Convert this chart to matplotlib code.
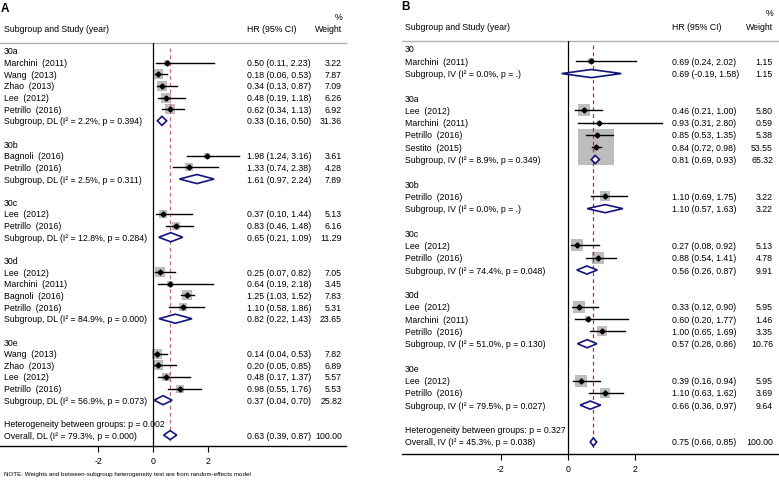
import matplotlib
matplotlib.use('Agg')
import matplotlib.pyplot as plt
from matplotlib.patches import Polygon
from matplotlib.transforms import blended_transform_factory
import numpy as np

plt.rcParams['font.family'] = ['Liberation Sans', 'DejaVu Sans']

W, H = 779, 481
FS = 6.3
NAN = np.nan

# ---- panel A (DL) ----
a_labels = ['30a', 'Marchini  (2011)', 'Wang  (2013)', 'Zhao  (2013)', 'Lee  (2012)', 'Petrillo  (2016)',
            'Subgroup, DL (I² = 2.2%, p = 0.394)', '',
            '30b', 'Bagnoli  (2016)', 'Petrillo  (2016)', 'Subgroup, DL (I² = 2.5%, p = 0.311)', '',
            '30c', 'Lee  (2012)', 'Petrillo  (2016)', 'Subgroup, DL (I² = 12.8%, p = 0.284)', '',
            '30d', 'Lee  (2012)', 'Marchini  (2011)', 'Bagnoli  (2016)', 'Petrillo  (2016)',
            'Subgroup, DL (I² = 84.9%, p = 0.000)', '',
            '30e', 'Wang  (2013)', 'Zhao  (2013)', 'Lee  (2012)', 'Petrillo  (2016)',
            'Subgroup, DL (I² = 56.9%, p = 0.073)', '',
            'Heterogeneity between groups: p = 0.002', 'Overall, DL (I² = 79.3%, p = 0.000)']
a_kind = ['h', 's', 's', 's', 's', 's', 'd', '',
          'h', 's', 's', 'd', '',
          'h', 's', 's', 'd', '',
          'h', 's', 's', 's', 's', 'd', '',
          'h', 's', 's', 's', 's', 'd', '',
          'h', 'd']
a_hr = [NAN, 0.50, 0.18, 0.34, 0.48, 0.62, 0.33, NAN,
        NAN, 1.98, 1.33, 1.61, NAN,
        NAN, 0.37, 0.83, 0.65, NAN,
        NAN, 0.25, 0.64, 1.25, 1.10, 0.82, NAN,
        NAN, 0.14, 0.20, 0.48, 0.98, 0.37, NAN,
        NAN, 0.63]
a_lo = [NAN, 0.11, 0.06, 0.13, 0.19, 0.34, 0.16, NAN,
        NAN, 1.24, 0.74, 0.97, NAN,
        NAN, 0.10, 0.46, 0.21, NAN,
        NAN, 0.07, 0.19, 1.03, 0.58, 0.22, NAN,
        NAN, 0.04, 0.05, 0.17, 0.55, 0.04, NAN,
        NAN, 0.39]
a_hi = [NAN, 2.23, 0.53, 0.87, 1.18, 1.13, 0.50, NAN,
        NAN, 3.16, 2.38, 2.24, NAN,
        NAN, 1.44, 1.48, 1.09, NAN,
        NAN, 0.82, 2.18, 1.52, 1.86, 1.43, NAN,
        NAN, 0.53, 0.85, 1.37, 1.76, 0.70, NAN,
        NAN, 0.87]
a_wt = [NAN, 3.22, 7.87, 7.09, 6.26, 6.92, 31.36, NAN,
        NAN, 3.61, 4.28, 7.89, NAN,
        NAN, 5.13, 6.16, 11.29, NAN,
        NAN, 7.05, 3.45, 7.83, 5.31, 23.65, NAN,
        NAN, 7.82, 6.89, 5.57, 5.53, 25.82, NAN,
        NAN, 100.00]

# ---- panel B (IV) ----
b_labels = ['30', 'Marchini  (2011)', 'Subgroup, IV (I² = 0.0%, p = .)', '',
            '30a', 'Lee  (2012)', 'Marchini  (2011)', 'Petrillo  (2016)', 'Sestito  (2015)',
            'Subgroup, IV (I² = 8.9%, p = 0.349)', '',
            '30b', 'Petrillo  (2016)', 'Subgroup, IV (I² = 0.0%, p = .)', '',
            '30c', 'Lee  (2012)', 'Petrillo  (2016)', 'Subgroup, IV (I² = 74.4%, p = 0.048)', '',
            '30d', 'Lee  (2012)', 'Marchini  (2011)', 'Petrillo  (2016)',
            'Subgroup, IV (I² = 51.0%, p = 0.130)', '',
            '30e', 'Lee  (2012)', 'Petrillo  (2016)', 'Subgroup, IV (I² = 79.5%, p = 0.027)', '',
            'Heterogeneity between groups: p = 0.327', 'Overall, IV (I² = 45.3%, p = 0.038)']
b_kind = ['h', 's', 'd', '',
          'h', 's', 's', 's', 's', 'd', '',
          'h', 's', 'd', '',
          'h', 's', 's', 'd', '',
          'h', 's', 's', 's', 'd', '',
          'h', 's', 's', 'd', '',
          'h', 'd']
b_hr = [NAN, 0.69, 0.69, NAN,
        NAN, 0.46, 0.93, 0.85, 0.84, 0.81, NAN,
        NAN, 1.10, 1.10, NAN,
        NAN, 0.27, 0.88, 0.56, NAN,
        NAN, 0.33, 0.60, 1.00, 0.57, NAN,
        NAN, 0.39, 1.10, 0.66, NAN,
        NAN, 0.75]
b_lo = [NAN, 0.24, -0.19, NAN,
        NAN, 0.21, 0.31, 0.53, 0.72, 0.69, NAN,
        NAN, 0.69, 0.57, NAN,
        NAN, 0.08, 0.54, 0.26, NAN,
        NAN, 0.12, 0.20, 0.65, 0.28, NAN,
        NAN, 0.16, 0.63, 0.36, NAN,
        NAN, 0.66]
b_hi = [NAN, 2.02, 1.58, NAN,
        NAN, 1.00, 2.80, 1.35, 0.98, 0.93, NAN,
        NAN, 1.75, 1.63, NAN,
        NAN, 0.92, 1.41, 0.87, NAN,
        NAN, 0.90, 1.77, 1.69, 0.86, NAN,
        NAN, 0.94, 1.62, 0.97, NAN,
        NAN, 0.85]
b_wt = [NAN, 1.15, 1.15, NAN,
        NAN, 5.80, 0.59, 5.38, 53.55, 65.32, NAN,
        NAN, 3.22, 3.22, NAN,
        NAN, 5.13, 4.78, 9.91, NAN,
        NAN, 5.95, 1.46, 3.35, 10.76, NAN,
        NAN, 5.95, 3.69, 9.64, NAN,
        NAN, 100.00]

ticks = [-2, 0, 2]

fig = plt.figure(figsize=(W / 100, H / 100), dpi=100)


def panel(labels, kind, hr, lo, hi, wt, box, zero_px, unit_px, first_y, step,
          label_x, hr_x, wt_x, head_y, box_k, dash_col, dia_h, tick_pad):
    left, right, top, bottom = box
    ax = fig.add_axes([left / W, 1 - bottom / H, (right - left) / W, (bottom - top) / H])
    n = len(labels)
    ax.set_xlim((left - zero_px) / unit_px, (right - zero_px) / unit_px)
    ax.set_ylim((n - 1) + (bottom - (first_y + (n - 1) * step)) / step, -(first_y - top) / step)
    for s in ['top', 'left', 'right']:
        ax.spines[s].set_visible(False)
    ax.spines['bottom'].set_linewidth(1.0)
    ax.set_yticks([])
    ax.set_xticks(ticks)
    ax.set_xticklabels([str(t) for t in ticks], fontsize=FS)
    ax.tick_params(axis='x', length=4, width=0.8, pad=tick_pad)
    ax.axhline(ax.get_ylim()[1], color='#b0b0b0', lw=1.0, clip_on=False)
    ax.axvline(0, color='black', lw=0.9)
    ax.patch.set_alpha(0)

    tr = blended_transform_factory(fig.transFigure, ax.transData)
    overall = hr[-1]
    ax.plot([overall, overall], [-0.3, n - 1 + 0.5], color=dash_col, lw=0.9, ls=(0, (3, 2.5)), zorder=2)

    for i in range(n):
        ax.text(label_x / W, i, labels[i], transform=tr, fontsize=FS, va='center', ha='left')
        if kind[i] in ('s', 'd'):
            ax.text(hr_x / W, i, f'{hr[i]:.2f} ({lo[i]:.2f}, {hi[i]:.2f})', transform=tr,
                    fontsize=FS, va='center', ha='left')
            ax.text(wt_x / W, i, f'{wt[i]:.2f}', transform=tr, fontsize=FS, va='center', ha='right')
        if kind[i] == 's':
            side = box_k * np.sqrt(wt[i]) * 0.72
            ax.scatter([hr[i]], [i], s=side ** 2, marker='s', color='#bdbdbd', lw=0, zorder=1)
            ax.plot([lo[i], hi[i]], [i, i], color='black', lw=1.0, zorder=3)
            ax.plot([hr[i]], [i], marker='D', ms=2.6, color='black', zorder=4)
        elif kind[i] == 'd':
            dia = Polygon([[lo[i], i], [hr[i], i - dia_h], [hi[i], i], [hr[i], i + dia_h]],
                          closed=True, facecolor='white', edgecolor='#14147a', lw=1.2, zorder=5)
            ax.add_patch(dia)

    fig.text(label_x / W, 1 - head_y / H, 'Subgroup and Study (year)', fontsize=FS, va='center')
    fig.text(hr_x / W, 1 - head_y / H, 'HR (95% CI)', fontsize=FS, va='center')
    fig.text(wt_x / W, 1 - head_y / H, 'Weight', fontsize=FS, va='center', ha='right')
    fig.text(wt_x / W, 1 - (head_y - 13) / H, '%', fontsize=FS, va='center', ha='right')
    return ax


panel(a_labels, a_kind, a_hr, a_lo, a_hi, a_wt, (0, 346, 44, 447), 153, 27.3, 52, 11.64,
      4, 247, 342, 30, 3.6, '#c8687e', 0.39, 3)
panel(b_labels, b_kind, b_hr, b_lo, b_hi, b_wt, (402, 779, 42, 455), 568, 33.7, 50, 12.28,
      405, 672, 773, 27, 5.05, '#b8283c', 0.33, 3)

fig.text(1 / W, 1 - 8.5 / H, 'A', fontsize=8.5, fontweight='bold', va='center', ha='left')
fig.text(401 / W, 1 - 7.5 / H, 'B', fontsize=8.5, fontweight='bold', va='center', ha='left')
fig.text(4 / W, 1 - 475 / H, 'NOTE: Weights and between-subgroup heterogeneity test are from random-effects model',
         fontsize=4.5, va='center', ha='left')

fig.savefig('out.png', dpi=100)
